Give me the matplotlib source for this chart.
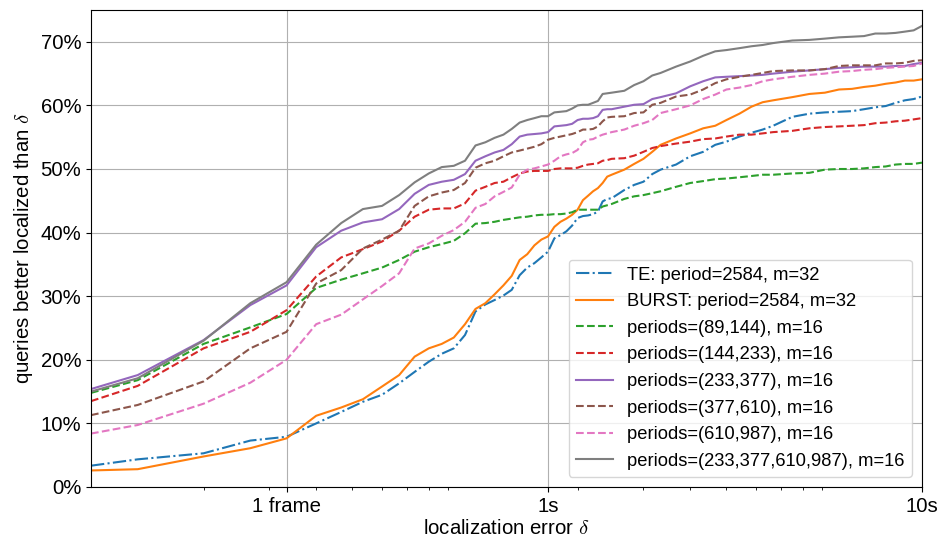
import numpy as np
import matplotlib
matplotlib.use("Agg")
from matplotlib import pyplot as plt
from matplotlib.ticker import FixedLocator, PercentFormatter, NullFormatter

plt.rcParams['font.family'] = ['Liberation Sans', 'DejaVu Sans']
plt.rcParams['mathtext.fontset'] = 'cm'
plt.rcParams['font.size'] = 14.7

# localization error in seconds
delta = [0.06, 0.08, 0.12, 0.16, 0.20, 0.24, 0.28, 0.32, 0.36, 0.40, 0.44, 0.48,
         0.52, 0.56, 0.60, 0.64, 0.68, 0.72, 0.76, 0.80, 0.84, 0.88, 0.92, 0.96,
         1.00, 1.04, 1.08, 1.12, 1.16, 1.20, 1.24, 1.28, 1.32, 1.36, 1.40, 1.44,
         1.48, 1.6, 1.7, 1.8, 1.9, 2.0, 2.2, 2.4, 2.6, 2.8, 3.0, 3.25, 3.5, 3.75,
         4.0, 4.5, 5.0, 5.5, 6.0, 6.5, 7.0, 7.5, 8.0, 8.5, 9.0, 9.5, 10.0]

# fraction of queries (in %) localized better than delta
te = [3.35, 4.35, 5.3, 7.3, 7.9, 10.0, 11.8, 13.4, 14.5, 16.3, 18.1, 19.7,
      20.95, 21.8, 23.9, 27.6, 28.7, 29.4, 30.1, 31.0, 33.3, 34.5, 35.2, 36.1,
      37.0, 39.1, 39.6, 40.2, 41.1, 42.3, 42.6, 42.7, 42.9, 43.3, 44.9, 45.3,
      45.4, 46.7, 47.5, 48.0, 49.2, 49.9, 50.7, 52.0, 52.7, 53.8, 54.3, 55.1, 55.7, 56.2,
      56.8, 58.2, 58.7, 58.9, 59.0, 59.1, 59.4, 59.7, 59.9, 60.4, 60.8, 61.0, 61.4]
burst = [2.6, 2.8, 4.8, 6.1, 7.65, 11.2, 12.5, 13.8, 15.8, 17.6, 20.5, 21.8,
         22.5, 23.5, 25.6, 28.0, 28.9, 30.3, 31.7, 33.2, 35.7, 36.6, 38.0, 38.9,
         39.4, 40.9, 41.7, 42.2, 42.8, 43.6, 45.1, 45.8, 46.5, 47.0, 47.8, 48.8,
         49.1, 49.9, 50.8, 51.6, 52.7, 53.8, 54.8, 55.6, 56.4, 56.8, 57.7, 58.7, 59.8, 60.5,
         60.8, 61.3, 61.8, 62.0, 62.5, 62.6, 62.9, 63.1, 63.4, 63.6, 63.9, 63.9, 64.1]
p_89_144 = [14.8, 16.8, 22.5, 25.1, 27.2, 31.3, 32.6, 33.6, 34.5, 35.7, 37.0, 37.7,
            38.2, 38.7, 39.9, 41.4, 41.5, 41.7, 42.0, 42.2, 42.4, 42.5, 42.7, 42.8,
            42.8, 42.9, 42.9, 43.0, 43.2, 43.6, 43.6, 43.6, 43.6, 43.6, 44.1, 44.3,
            44.5, 45.3, 45.7, 45.9, 46.2, 46.5, 47.2, 47.8, 48.1, 48.4, 48.5, 48.7, 48.9, 49.1,
            49.1, 49.3, 49.4, 49.9, 50.0, 50.0, 50.1, 50.3, 50.4, 50.7, 50.8, 50.8, 51.0]
p_144_233 = [13.5, 15.9, 21.8, 24.4, 27.8, 33.1, 36.1, 37.4, 38.6, 40.3, 42.5, 43.6,
             43.8, 43.8, 44.6, 46.6, 47.2, 47.8, 48.0, 48.7, 49.3, 49.6, 49.7, 49.7,
             49.7, 50.0, 50.1, 50.1, 50.1, 50.2, 50.5, 50.7, 50.8, 50.9, 51.3, 51.4,
             51.6, 51.7, 52.1, 52.7, 53.3, 53.6, 54.0, 54.3, 54.7, 54.8, 55.1, 55.4, 55.4, 55.6,
             55.8, 56.0, 56.4, 56.6, 56.7, 56.8, 56.9, 57.2, 57.3, 57.5, 57.6, 57.8, 58.0]
p_233_377 = [15.4, 17.6, 23.1, 28.6, 31.7, 37.7, 40.3, 41.6, 42.1, 43.7, 46.1, 47.5,
             48.0, 48.3, 49.2, 51.3, 52.0, 52.6, 53.0, 53.9, 55.1, 55.4, 55.5, 55.6,
             55.8, 56.7, 56.8, 56.9, 57.1, 57.7, 57.9, 57.9, 58.0, 58.3, 59.3, 59.4,
             59.4, 59.8, 60.1, 60.2, 61.0, 61.3, 61.9, 63.0, 63.8, 64.4, 64.5, 64.6, 64.7, 64.8,
             65.0, 65.3, 65.5, 65.7, 65.9, 66.0, 66.1, 66.1, 66.1, 66.2, 66.2, 66.5, 66.7]
p_377_610 = [11.3, 12.9, 16.6, 21.8, 24.4, 32.0, 34.1, 37.5, 38.9, 40.3, 44.2, 45.7,
             46.3, 46.7, 47.8, 50.2, 50.9, 51.3, 52.0, 52.6, 52.9, 53.2, 53.5, 53.9,
             54.6, 54.9, 55.1, 55.3, 55.5, 55.8, 56.2, 56.2, 56.3, 56.7, 57.5, 58.1,
             58.2, 58.3, 58.8, 58.9, 60.1, 60.4, 61.4, 61.7, 62.5, 63.5, 64.1, 64.5, 64.8, 65.1,
             65.4, 65.5, 65.5, 65.7, 66.2, 66.3, 66.3, 66.3, 66.6, 66.6, 66.7, 67.0, 67.1]
p_610_987 = [8.4, 9.75, 13.1, 16.4, 20.0, 25.6, 27.1, 29.5, 31.6, 33.6, 37.5, 38.3,
             39.5, 40.4, 41.7, 43.9, 44.5, 45.7, 46.4, 47.1, 49.1, 49.9, 50.1, 50.4,
             50.7, 51.3, 52.0, 52.3, 52.5, 53.0, 54.2, 54.6, 54.7, 55.1, 55.4, 55.6,
             55.8, 56.2, 56.8, 57.2, 57.7, 58.8, 59.4, 60.0, 61.0, 61.7, 62.5, 62.8, 63.2, 63.8,
             64.1, 64.5, 64.8, 65.0, 65.3, 65.4, 65.6, 65.7, 65.9, 66.0, 66.1, 66.2, 66.6]
p_all = [15.0, 17.1, 23.0, 28.9, 32.2, 38.1, 41.5, 43.7, 44.2, 45.9, 47.9, 49.3,
         50.3, 50.5, 51.3, 53.7, 54.2, 54.9, 55.4, 56.3, 57.3, 57.7, 58.0, 58.3,
         58.3, 58.9, 59.0, 59.1, 59.5, 60.0, 60.1, 60.1, 60.4, 60.7, 61.8, 61.9,
         62.0, 62.3, 63.2, 63.8, 64.7, 65.1, 66.1, 66.9, 67.8, 68.5, 68.7, 69.0, 69.3, 69.5,
         69.8, 70.2, 70.3, 70.5, 70.7, 70.8, 70.9, 71.3, 71.3, 71.4, 71.6, 71.8, 72.5]

labels = ["TE: period=2584, m=32",
          "BURST: period=2584, m=32",
          "periods=(89,144), m=16",
          "periods=(144,233), m=16",
          "periods=(233,377), m=16",
          "periods=(377,610), m=16",
          "periods=(610,987), m=16",
          "periods=(233,377,610,987), m=16"]
series = [te, burst, p_89_144, p_144_233, p_233_377, p_377_610, p_610_987, p_all]
styles = ['-.', '-', '--', '--', '-', '--', '--', '-']

xticks = [0.2, 1.0, 10.0]
xticklabels = ["1 frame", "1s", "10s"]
yticks = [0, 10, 20, 30, 40, 50, 60, 70]

fig = plt.figure(figsize=(9.41, 5.41), dpi=100)
ax = fig.add_axes([91 / 941, 1 - 487 / 541, 831 / 941, 477 / 541])

for i, (y, lab, ls) in enumerate(zip(series, labels, styles)):
    ax.plot(delta, y, ls, color='C%d' % i, lw=1.5, label=lab)

ax.set_xscale('log')
ax.set_xlim(0.06, 10)
ax.set_ylim(0, 75)
ax.xaxis.set_major_locator(FixedLocator(xticks))
ax.set_xticklabels(xticklabels)
# minor ticks sit on multiples of the 0.06 s step
step = 0.06
minor = [k * step * 10**e for e in (0, 1) for k in range(2, 10)]
ax.xaxis.set_minor_locator(FixedLocator(minor))
ax.xaxis.set_minor_formatter(NullFormatter())
ax.yaxis.set_major_locator(FixedLocator(yticks))
ax.yaxis.set_major_formatter(PercentFormatter(decimals=0))

ax.grid(True, which='major', color='#b0b0b0', lw=0.8)
ax.set_xlabel(r'localization error $\delta$', labelpad=2)
ax.set_ylabel(r'queries better localized than $\delta$')
ax.legend(loc='lower right', fontsize=13.2, labelspacing=0.52,
          borderaxespad=0.55)

fig.savefig('out.png', dpi=100)
